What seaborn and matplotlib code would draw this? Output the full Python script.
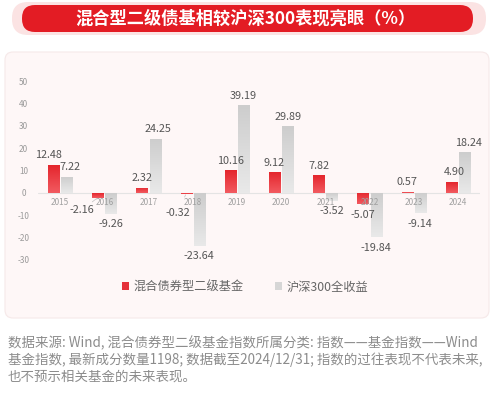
import numpy as np
import pandas as pd
import matplotlib
matplotlib.use("Agg")
import matplotlib.pyplot as plt
import seaborn as sns
from matplotlib.patches import FancyBboxPatch, Rectangle
from matplotlib.transforms import IdentityTransform
from matplotlib.colors import LinearSegmentedColormap

# ---------------- data ----------------
years = ["2015", "2016", "2017", "2018", "2019", "2020", "2021", "2022", "2023", "2024"]
bond_fund = [12.48, -2.16, 2.32, -0.32, 10.16, 9.12, 7.82, -5.07, 0.57, 4.90]
csi300 = [7.22, -9.26, 24.25, -23.64, 39.19, 29.89, -3.52, -19.84, -9.14, 18.24]
series_names = ["混合债券型二级基金", "沪深300全收益"]
y_ticks = [-30, -20, -10, 0, 10, 20, 30, 40, 50]
title = "混合型二级债基相较沪深300表现亮眼（%）"
notes = [
    "数据来源: Wind, 混合债券型二级基金指数所属分类: 指数——基金指数——Wind",
    "基金指数, 最新成分数量1198; 数据截至2024/12/31; 指数的过往表现不代表未来,",
    "也不预示相关基金的未来表现。",
]

df = pd.DataFrame({
    "year": years * 2,
    "value": bond_fund + csi300,
    "series": [series_names[0]] * len(years) + [series_names[1]] * len(years),
})

# ---------------- style ----------------
sns.set_theme(style="white")
plt.rcParams["font.family"] = ["Noto Sans CJK SC", "DejaVu Sans"]

RED = "#e5323a"
GRAY = "#d6d6d6"
W, H = 500, 399

fig = plt.figure(figsize=(W / 100, H / 100), dpi=100)
fig.patch.set_facecolor("white")

def px_box(x0, y0, x1, y1, r, fc, ec="none", lw=0, z=-5):
    p = FancyBboxPatch((x0, H - y1), x1 - x0, y1 - y0,
                       boxstyle=f"round,pad=0,rounding_size={r}",
                       transform=IdentityTransform(), fc=fc, ec=ec, lw=lw, zorder=z)
    fig.patches.append(p)

# card
px_box(5, 52, 489, 318, 8, "#fef7f7", ec="#f6e9e9", lw=0.8)
# title banner
px_box(12, 2, 486, 35, 16, "#fbe3e3")
px_box(22, 5, 473, 32, 13, "#e31c24", z=-4)
fig.text(245 / W, 1 - 19 / H, title, color="white", fontsize=12.4,
         fontweight="bold", ha="center", va="center")

# ---------------- axes ----------------
ax = fig.add_axes([38 / W, 1 - 271 / H, (480 - 38) / W, (271 - 70) / H])
ax.set_facecolor("none")
sns.barplot(data=df, x="year", y="value", hue="series", palette=[RED, GRAY],
            width=0.6, gap=0.16, saturation=1, legend=False, ax=ax, zorder=2)

cm_red = LinearSegmentedColormap.from_list("r", ["#e4262d", "#f25a60"])
cm_gray = LinearSegmentedColormap.from_list("g", ["#cdcdcd", "#e9e9e9"])
grad = np.linspace(0, 1, 64).reshape(-1, 1)
for p in list(ax.patches):
    fc = p.get_facecolor()
    cmap = cm_red if fc[1] < 0.5 else cm_gray
    x0, w = p.get_x(), p.get_width()
    y0, h = p.get_y(), p.get_height()
    lo, hi = min(y0, y0 + h), max(y0, y0 + h)
    im = ax.imshow(grad, extent=[x0, x0 + w, lo, hi], aspect="auto",
                   origin="upper", cmap=cmap, vmin=0, vmax=1, zorder=2)
    im.set_clip_path(p)
    p.set_facecolor("none")
    p.set_edgecolor("none")

ax.axhline(0, color="#e4e4e4", lw=0.8, zorder=1)
ax.set_xlim(-0.5, len(years) - 0.5)
ax.set_ylim(-35, 55)
ax.set_yticks(y_ticks)
ax.set_yticklabels([str(t) for t in y_ticks], fontsize=5.9, color="#9a9a9a")
for lab in ax.get_yticklabels():
    lab.set_ha("center")
ax.tick_params(axis="y", length=0, pad=10.5)
ax.set_xticks([])
ax.set_xlabel("")
ax.set_ylabel("")
for s in ax.spines.values():
    s.set_visible(False)

PT = 0.72  # points per pixel
for i, yr in enumerate(years):
    ax.annotate(yr, xy=(i, 0), xytext=(0, -10 * PT), textcoords="offset points",
                ha="center", va="center", fontsize=5.9, color="#a0a0a0", zorder=3)

# value labels
nudge = {(0, 0): (-5, 0), (0, 1): (-16, 2), (0, 3): (-8, 9),
         (1, 0): (3, 0), (1, 2): (3, 0), (1, 9): (4, 0), (0, 9): (3, 0)}
leader = {(0, 1), (0, 3)}
for si, vals in enumerate([bond_fund, csi300]):
    for i, v in enumerate(vals):
        xc = i + (-0.15 if si == 0 else 0.15)
        dx, dy = nudge.get((si, i), (0, 0))
        off = 9.5 if v >= 0 else -10.5
        kw = {}
        if (si, i) in leader:
            kw["arrowprops"] = dict(arrowstyle="-", color="#bdbdbd", lw=0.5,
                                    shrinkA=6, shrinkB=1)
        ax.annotate(f"{v:.2f}", xy=(xc, v),
                    xytext=(dx * PT, (off - dy if v < 0 else off + dy) * PT),
                    textcoords="offset points", ha="center", va="center",
                    fontsize=7.8, color="#555555", zorder=4, **kw)

# legend
handles = [Rectangle((0, 0), 1, 1, fc=RED, ec="none"),
           Rectangle((0, 0), 1, 1, fc=GRAY, ec="none")]
fig.legend(handles, series_names, loc="center", bbox_to_anchor=(245 / W, 1 - 287 / H),
           ncol=2, frameon=False, fontsize=8.8, labelcolor="#666666",
           handlelength=0.6, handleheight=0.6, handletextpad=0.35, columnspacing=2.6)

# footnotes
for k, line in enumerate(notes):
    fig.text(8 / W, 1 - (343 + 17 * k) / H, line, fontsize=9.7, color="#8c8c8c",
             ha="left", va="center")

fig.savefig("out.png", dpi=100, facecolor="white")
